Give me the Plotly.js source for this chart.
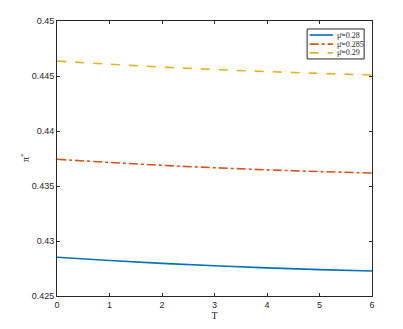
<!DOCTYPE html>
<html>
<head>
<meta charset="utf-8">
<script src="https://cdn.plot.ly/plotly-3.0.1.min.js"></script>
<style>body{margin:0;background:#fff}</style>
</head>
<body>
<div id="plot" style="width:403px;height:329px"></div>
<script>
// values
let T = [0, 1, 2, 3, 4, 5, 6];
let pi028 = [0.42852, 0.42823, 0.42797, 0.42775, 0.42756, 0.42740, 0.42727];
let pi0285 = [0.43743, 0.43714, 0.43688, 0.43666, 0.43647, 0.43631, 0.43618];
let pi029 = [0.44636, 0.44607, 0.44581, 0.44559, 0.44540, 0.44524, 0.44509];
let names = ["μ̄=0.28", "μ̄=0.285", "μ̄=0.29"];
let yTicks = [0.425, 0.43, 0.435, 0.44, 0.445, 0.45];

let colors = ["#0072BD", "#D95319", "#EDB120"];
let dashes = ["solid", "dashdot", "dash"];

let data = [pi028, pi0285, pi029].map((ys, i) => ({
    x: T,
    y: ys,
    mode: 'lines',
    name: names[i],
    line: { color: colors[i], width: 1.6, dash: dashes[i], shape: 'spline' }
}));

// compact MATLAB-style legend (plotly's own legend rows are too tall here)
let legY = [0.949, 0.916, 0.884];
let shapes = [{
    type: 'rect', xref: 'paper', yref: 'paper',
    x0: 0.794, x1: 0.975, y0: 0.862, y1: 0.971,
    fillcolor: '#fff', line: { color: '#262626', width: 1 }
}];
let serif = { family: 'Liberation Serif, Times New Roman', size: 8, color: '#262626' };
let annotations = [];
names.forEach((n, i) => {
    shapes.push({
        type: 'line', xref: 'paper', yref: 'paper',
        x0: 0.802, x1: 0.876, y0: legY[i], y1: legY[i],
        line: { color: colors[i], width: 1.6, dash: dashes[i] }
    });
    annotations.push({
        xref: 'paper', yref: 'paper', x: 0.882, y: legY[i],
        xanchor: 'left', yanchor: 'middle', showarrow: false,
        text: n, font: serif
    });
});

// y-axis label placed like the original
annotations.push({
    xref: 'paper', yref: 'paper', x: -0.102, y: 0.505,
    xanchor: 'center', yanchor: 'middle', showarrow: false,
    textangle: -90, text: 'π<sup>*</sup>',
    font: { family: 'Liberation Serif, Times New Roman', size: 10, color: '#262626' }
});

let axisStyle = {
    showgrid: false,
    zeroline: false,
    showline: true,
    mirror: 'ticks',
    linecolor: '#262626',
    linewidth: 1,
    ticks: 'inside',
    ticklen: 3,
    tickcolor: '#262626',
    tickfont: { family: 'Liberation Sans, Arial', size: 9, color: '#262626' }
};

let layout = {
    width: 403,
    height: 329,
    margin: { l: 57, r: 31, t: 21, b: 33 },
    paper_bgcolor: '#fff',
    plot_bgcolor: '#fff',
    showlegend: false,
    shapes: shapes,
    annotations: annotations,
    xaxis: Object.assign({}, axisStyle, {
        range: [0, 6],
        tickvals: T,
        title: { text: 'T', font: { family: 'Liberation Serif, Times New Roman', size: 10, color: '#262626' }, standoff: 3 }
    }),
    yaxis: Object.assign({}, axisStyle, {
        range: [0.425, 0.45],
        tickvals: yTicks,
        ticktext: yTicks.map(v => String(v))
    })
};

Plotly.newPlot('plot', data, layout, { displayModeBar: false, staticPlot: true });
</script>
</body>
</html>
